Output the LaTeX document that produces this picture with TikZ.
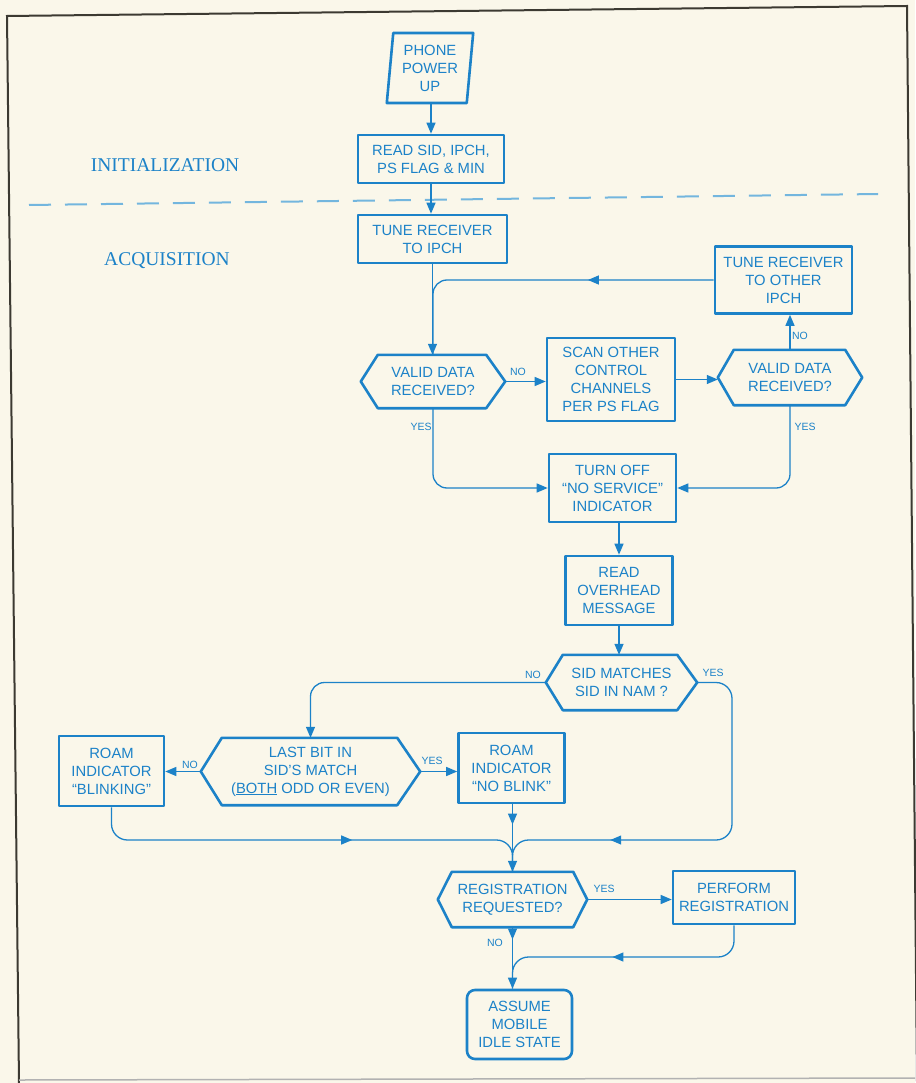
\documentclass[tikz,border=0pt]{standalone}
\usepackage{fontspec}
\setmainfont{Liberation Sans}
\newfontfamily\seriflab{Liberation Serif}
\usetikzlibrary{arrows.meta,decorations.markings,shapes.geometric}
\definecolor{bg}{RGB}{250,247,234}
\definecolor{ink}{RGB}{28,130,200}
\definecolor{dashc}{RGB}{115,182,222}
\definecolor{framec}{RGB}{60,58,50}
\tikzset{
  box/.style={draw=ink, line width=2.6pt, line join=round, text=ink, align=center,
    font=\fontsize{14.8}{18}\selectfont, inner sep=1pt},
  hexbox/.style={draw=none, text=ink, align=center, font=\fontsize{14.8}{18}\selectfont, inner sep=0pt},
  conn/.style={draw=ink, line width=1.3pt},
  tip/.style={-{Triangle[length=11pt,width=9pt]}},
  midarr/.style={postaction={decorate}, decoration={markings,
    mark=at position #1 with {\arrow{Triangle[length=11pt,width=9pt]}}}},
  lab/.style={text=ink, font=\fontsize{10.5}{12}\selectfont, inner sep=0pt},
  sect/.style={text=ink, font=\seriflab\fontsize{19.5}{22}\selectfont},
}
\newcommand\hexpath[3]{\draw[draw=ink,line width=2.6pt,line join=round]
  (#1.west) -- ([xshift=#2pt]#1.north west) -- ([xshift=-#3pt]#1.north east) -- (#1.east)
  -- ([xshift=-#3pt]#1.south east) -- ([xshift=#2pt]#1.south west) -- cycle;}
\begin{document}
\begin{tikzpicture}[x=1pt,y=-1pt]
\useasboundingbox (0,0) rectangle (915,1083);
\fill[bg] (0,0) rectangle (915,1083);
% frame
\draw[framec, line width=2pt] (19,1083) -- (7,16) -- (907,6) -- (917,1083);
\draw[gray!60, line width=1.5pt] (19,1080) -- (915,1078);
% section divider
\draw[dashc, line width=2pt, dash pattern=on 22pt off 14pt] (29,205) -- (878,194);
\node[sect] (init) at (165,165) {INITIALIZATION};
\node[sect] (acq) at (167,261) {ACQUISITION};

% nodes
\node[box, trapezium, trapezium left angle=84, trapezium right angle=96,
  trapezium stretches=true, minimum width=87, minimum height=70] (power) at (430,68)
  {PHONE\\POWER\\UP};
\node[box, minimum width=146, minimum height=48] (readsid) at (431,159) {READ SID, IPCH,\\PS FLAG \& MIN};
\node[box, minimum width=149, minimum height=48] (tunei) at (432.5,239) {TUNE RECEIVER\\TO IPCH};
\node[box, minimum width=137, minimum height=67] (tuneo) at (783.5,280) {TUNE RECEIVER\\TO OTHER\\IPCH};
\node[hexbox, minimum width=144, minimum height=53] (valid1) at (433,381.5) {VALID DATA\\RECEIVED?};
\hexpath{valid1}{17}{19}
\node[box, minimum width=128, minimum height=83] (scan) at (611,379.5) {SCAN OTHER\\CONTROL\\CHANNELS\\PER PS FLAG};
\node[hexbox, minimum width=144, minimum height=55] (valid2) at (790,377.5) {VALID DATA\\RECEIVED?};
\hexpath{valid2}{16}{17}
\node[box, minimum width=127, minimum height=68] (turnoff) at (612.5,488) {TURN OFF\\``NO SERVICE''\\INDICATOR};
\node[box, minimum width=107, minimum height=69] (readov) at (619,590.5) {READ\\OVERHEAD\\MESSAGE};
\node[hexbox, minimum width=151, minimum height=55] (sid) at (621.5,682.5) {SID MATCHES\\SID IN NAM ?};
\hexpath{sid}{17}{20}
\node[hexbox, minimum width=219, minimum height=67] (lastbit) at (310.5,771.5)
  {LAST BIT IN\\SID'S MATCH\\(\underline{BOTH} ODD OR EVEN)};
\hexpath{lastbit}{21}{23}
\node[box, minimum width=105, minimum height=70] (blink) at (111.5,771) {ROAM\\INDICATOR\\``BLINKING''};
\node[box, minimum width=106, minimum height=70] (noblink) at (511.5,768) {ROAM\\INDICATOR\\``NO BLINK''};
\node[hexbox, minimum width=149, minimum height=55] (reg) at (512.5,899.5) {REGISTRATION\\REQUESTED?};
\hexpath{reg}{14}{14}
\node[box, minimum width=122, minimum height=53] (perform) at (734,897.5) {PERFORM\\REGISTRATION};
\node[box, rounded corners=8pt, minimum width=105, minimum height=69] (assume) at (519.5,1024.5)
  {ASSUME\\MOBILE\\IDLE STATE};

% junction coordinates
\coordinate (jmid) at (512.5,840);
\coordinate (jbot) at (512.5,957);

% connectors
\draw[conn, tip] (readsid.north |- power.south) -- (readsid.north);
\draw[conn, tip] (readsid.south) -- (readsid.south |- tunei.north);
\draw[conn, tip] (tunei.south) -- (tunei.south |- valid1.north);
\draw[conn, rounded corners=14pt, midarr=0.36] (tuneo.west) -| (valid1.north);
\draw[conn, tip] (valid1.east) -- (valid1.east -| scan.west);
\draw[conn, tip] (scan.east) -- (scan.east -| valid2.west);
\draw[conn, tip] (valid2.north) -- (valid2.north |- tuneo.south);
\draw[conn, tip, rounded corners=14pt] (valid1.south) |- (turnoff.west);
\draw[conn, tip, rounded corners=14pt] (valid2.south) |- (turnoff.east);
\draw[conn, tip] (readov.north |- turnoff.south) -- (readov.north);
\draw[conn, tip] (readov.south) -- (readov.south |- sid.north);
\draw[conn, tip, rounded corners=14pt] (sid.west) -| (lastbit.north);
\draw[conn, rounded corners=16pt, midarr=0.71] (sid.east) -| (732,840) -- (jmid) -- (reg.north);
\draw[conn, tip] (lastbit.west) -- (lastbit.west -| blink.east);
\draw[conn, tip] (lastbit.east) -- (lastbit.east -| noblink.west);
\draw[conn, rounded corners=16pt, midarr=0.59] (blink.south) |- (jmid) -- (reg.north);
\draw[conn, tip, midarr=0.3] (reg.north |- noblink.south) -- (reg.north);
\draw[conn, tip] (reg.east) -- (reg.east -| perform.west);
\draw[conn, tip, midarr=0.2] (reg.south) -- (reg.south |- assume.north);
\draw[conn, rounded corners=16pt, midarr=0.54] (perform.south) |- (jbot) -- (reg.south |- assume.north);

% labels
\node[lab] (l1) at (518,372) {NO};
\node[lab] (l2) at (800,336) {NO};
\node[lab] (l3) at (421,427) {YES};
\node[lab] (l4) at (805,427) {YES};
\node[lab] (l5) at (533,675) {NO};
\node[lab] (l6) at (713,673) {YES};
\node[lab] (l7) at (190,765) {NO};
\node[lab] (l8) at (432,761) {YES};
\node[lab] (l9) at (604,889) {YES};
\node[lab] (l10) at (495,943) {NO};
\end{tikzpicture}
\end{document}
